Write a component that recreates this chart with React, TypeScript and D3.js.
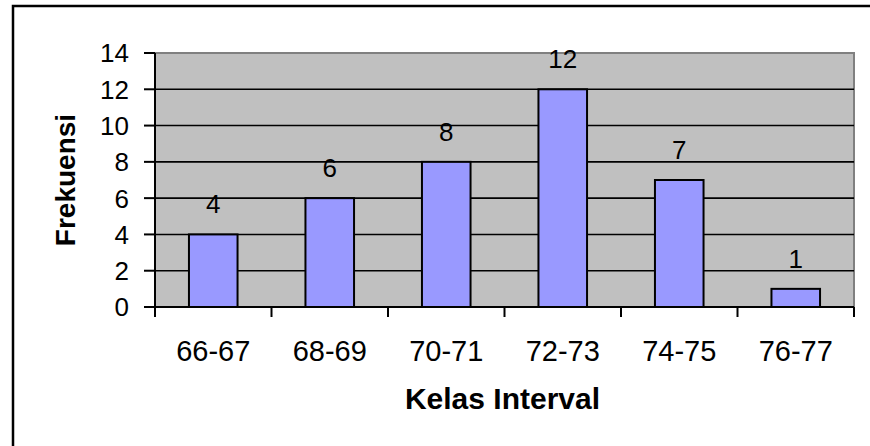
import React from "react";
import * as d3 from "d3";

const categories = ["66-67", "68-69", "70-71", "72-73", "74-75", "76-77"];
const frequencies = [4, 6, 8, 12, 7, 1];
const yTicks = [0, 2, 4, 6, 8, 10, 12, 14];
const xTitle = "Kelas Interval";
const yTitle = "Frekuensi";

const W = 870;
const H = 446;
const plot = { left: 155, right: 854, top: 53, bottom: 307 };
const FONT = "'Liberation Sans', Arial, sans-serif";

export default function App() {
  const x = d3
    .scaleBand<string>()
    .domain(categories)
    .range([plot.left, plot.right])
    .paddingInner(0)
    .paddingOuter(0);
  const y = d3.scaleLinear().domain([0, 14]).range([plot.bottom, plot.top]);
  const bw = x.bandwidth();
  const barW = bw * 0.417;
  const boundaries = categories.map((c) => x(c) as number).concat([plot.right]);

  return (
    <svg
      width={W}
      height={H}
      style={{ position: "absolute", left: 0, top: 0, background: "#fff" }}
      fontFamily={FONT}
    >
      <rect x={13} y={6} width={W + 20} height={H + 20} fill="#fff" stroke="#000" strokeWidth={2.5} />

      <rect
        x={plot.left}
        y={plot.top}
        width={plot.right - plot.left}
        height={plot.bottom - plot.top}
        fill="#C0C0C0"
      />
      <path
        d={`M${plot.left},${plot.top}H${plot.right}V${plot.bottom}`}
        fill="none"
        stroke="#808080"
        strokeWidth={2}
      />

      {yTicks
        .filter((t) => t > 0 && t < 14)
        .map((t) => (
          <line key={"g" + t} x1={plot.left} x2={plot.right} y1={y(t)} y2={y(t)} stroke="#000" strokeWidth={1.6} />
        ))}

      {categories.map((c, i) => {
        const cx = (x(c) as number) + bw / 2;
        return (
          <g key={c}>
            <rect
              x={cx - barW / 2}
              y={y(frequencies[i])}
              width={barW}
              height={plot.bottom - y(frequencies[i])}
              fill="#9999FF"
              stroke="#000"
              strokeWidth={2}
            />
            <text x={cx} y={y(frequencies[i]) - 21} textAnchor="middle" fontSize={26} fill="#000">
              {frequencies[i]}
            </text>
            <text x={cx} y={361} textAnchor="middle" fontSize={29} fill="#000">
              {c}
            </text>
          </g>
        );
      })}

      <line x1={plot.left} x2={plot.left} y1={plot.top} y2={plot.bottom} stroke="#000" strokeWidth={2} />
      <line x1={plot.left} x2={plot.right} y1={plot.bottom} y2={plot.bottom} stroke="#000" strokeWidth={2} />
      {yTicks.map((t) => (
        <g key={"y" + t}>
          <line x1={plot.left - 11} x2={plot.left} y1={y(t)} y2={y(t)} stroke="#000" strokeWidth={2} />
          <text x={129} y={y(t)} dy="0.36em" textAnchor="end" fontSize={26} fill="#000">
            {t}
          </text>
        </g>
      ))}
      {boundaries.map((bx, i) => (
        <line key={"xt" + i} x1={bx} x2={bx} y1={plot.bottom} y2={plot.bottom + 10} stroke="#000" strokeWidth={2} />
      ))}

      <text x={(plot.left + plot.right) / 2 - 2} y={409} textAnchor="middle" fontSize={30} fontWeight="bold" fill="#000">
        {xTitle}
      </text>
      <text
        transform={`translate(75,${(plot.top + plot.bottom) / 2}) rotate(-90)`}
        textAnchor="middle"
        fontSize={28}
        fontWeight="bold"
        fill="#000"
      >
        {yTitle}
      </text>
    </svg>
  );
}
